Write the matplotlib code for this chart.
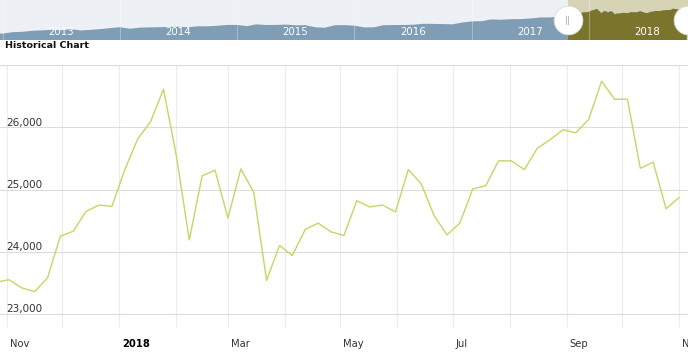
import numpy as np
import pandas as pd
import matplotlib
matplotlib.use("Agg")
import matplotlib.pyplot as plt
import matplotlib.dates as mdates
import matplotlib.transforms as mtransforms
from matplotlib.patches import Rectangle

plt.rcParams['font.family'] = ['DejaVu Sans']

# ---------------- data ----------------
# weekly closes (Thursdays) starting 2017-10-26
weekly_start = "2017-10-26"
weekly_values = [23510, 23550, 23420, 23360, 23580, 24250, 24330, 24650, 24750, 24730,
                 25320, 25810, 26090, 26610, 25540, 24190, 25220, 25310, 24540, 25330,
                 24960, 23540, 24100, 23940, 24360, 24460, 24320, 24260, 24820, 24720,
                 24750, 24640, 25320, 25090, 24580, 24270, 24460, 25010, 25060, 25460,
                 25460, 25320, 25660, 25800, 25960, 25910, 26130, 26740, 26450, 26450,
                 25340, 25440, 24690, 24870]

# navigator: month-start levels from 2012-12 to 2017-10
nav_start = "2012-12-01"
nav_values = [13025,
              13104, 13861, 14054, 14579, 14840, 15116, 14910, 15500, 14810, 15130, 15546, 16086,
              16577, 15699, 16322, 16458, 16581, 16717, 16827, 16563, 17098, 17043, 17391, 17828,
              17823, 17165, 18133, 17776, 17841, 18011, 17620, 17690, 16528, 16285, 17664, 17720,
              17425, 16466, 16517, 17685, 17774, 17787, 17930, 18432, 18401, 18308, 18142, 19124,
              19763, 19864, 20812, 20663, 20941, 21009, 21350, 21891, 21948, 22405]
nav_years = ["2013", "2014", "2015", "2016", "2017", "2018"]

y_ticks = [23000, 24000, 25000, 26000, 27000]
y_labels = ["23,000", "24,000", "25,000", "26,000", ""]

x_tick_start = "2017-11-01"
x_labels = ["Nov", "", "2018", "", "Mar", "", "May", "", "Jul", "", "Sep", "", "Nov"]

title = "Historical Chart"

# ---------------- figure ----------------
W, H, DPI = 688, 362, 100
fig = plt.figure(figsize=(W / DPI, H / DPI), dpi=DPI)
fig.patch.set_facecolor("white")

dnum = lambda d: mdates.date2num(pd.Timestamp(d).to_pydatetime())

dates = pd.date_range(weekly_start, periods=len(weekly_values), freq="7D")
nav_dates = pd.date_range(nav_start, periods=len(nav_values), freq="MS")
month_ticks = pd.date_range(x_tick_start, periods=len(x_labels), freq="MS")
dates_n = np.array([dnum(d) for d in dates])
nav_dates_n = np.array([dnum(d) for d in nav_dates])
month_ticks_n = np.array([dnum(d) for d in month_ticks])

main_left = dnum("2017-10-28 04:48")
main_right = dnum("2018-11-05 21:36")

# ---------------- navigator ----------------
nav = fig.add_axes([0, 1 - 40 / H, 1, 40 / H])
nav_left = dnum("2012-12-23")
nav_right = dnum("2018-11-05")
NAV_LO, NAV_HI = 9567, 31485
nav.set_xlim(nav_left, nav_right)
nav.set_ylim(NAV_LO, NAV_HI)
nav.set_facecolor("#edf1f5")
for s in nav.spines.values():
    s.set_visible(False)
nav.set_xticks([])
nav.set_yticks([])

all_dates = np.concatenate([nav_dates_n, dates_n])
all_vals = np.array(list(nav_values) + list(weekly_values), dtype=float)
nav.axvspan(main_left, nav_right, color="#d7d4b6", zorder=0, lw=0)
nav.fill_between(all_dates, all_vals, NAV_LO, color="#7f9db4", lw=0, zorder=1)
olive = nav.fill_between(all_dates, all_vals, NAV_LO, color="#7b742d", lw=0, zorder=2)
clip = Rectangle((main_left, NAV_LO), nav_right - main_left, NAV_HI - NAV_LO,
                 transform=nav.transData)
olive.set_clip_path(clip)

bt = nav.get_xaxis_transform()
for yr in nav_years:
    y = int(yr)
    nav.axvline(dnum(f"{y}-01-01"), color="white", alpha=0.3, lw=0.8, zorder=3)
    nav.text(dnum(f"{y}-07-02"), 0.19, yr, transform=bt,
             ha="center", va="center", color="white", fontsize=7.4, zorder=4)

for hx in [main_left, nav_right]:
    nav.scatter([hx], [0.49], s=430, color="white", edgecolors="#d8d8d8",
                linewidths=0.6, transform=bt, zorder=6, clip_on=True)
nav.text(main_left, 0.49, "||", transform=bt, ha="center", va="center",
         color="#aaaaaa", fontsize=6.5, zorder=7)

# ---------------- title ----------------
fig.text(5 / W, 1 - 46 / H, title, fontsize=6.8, fontweight="bold",
         color="#111111", ha="left", va="center")

# ---------------- main chart ----------------
ax = fig.add_axes([0, 48 / H, 1, 249 / H])
ax.set_facecolor("white")
ax.plot(dates_n, weekly_values, color="#c4d762", lw=1.0, zorder=3)
ax.set_xlim(main_left, main_right)
ax.set_ylim(23000, 27000)
for s in ax.spines.values():
    s.set_visible(False)

ax.set_yticks(y_ticks)
ax.set_yticklabels([])
ax.tick_params(axis="y", length=0)
ax.set_xticks(month_ticks_n)
ax.set_xticklabels([])
ax.tick_params(axis="x", length=9.4, color="#ececec", width=0.8, direction="out")
ax.grid(axis="y", color="#dcdcdc", lw=0.8, zorder=1)
ax.grid(axis="x", color="#ececec", lw=0.8, zorder=1)
for gl in ax.get_ygridlines():
    gl.set_clip_on(False)

ytr = mtransforms.blended_transform_factory(ax.transAxes, ax.transData)
for v, lab in zip(y_ticks, y_labels):
    if lab:
        ax.annotate(lab, xy=(0, v), xycoords=ytr, xytext=(4.5, 1.2),
                    textcoords="offset points", ha="left", va="baseline",
                    fontsize=7.5, color="#333333", zorder=4)

xtr = ax.get_xaxis_transform()
for d, lab in zip(month_ticks_n, x_labels):
    if lab:
        bold = lab.isdigit()
        ax.annotate(lab, xy=(d, 0), xycoords=xtr, xytext=(2.2, -23.8),
                    textcoords="offset points", ha="left", va="baseline",
                    fontsize=7.2, color="#000000" if bold else "#333333",
                    fontweight="bold" if bold else "normal", annotation_clip=False)

fig.savefig("out.png", dpi=DPI, facecolor="white")
